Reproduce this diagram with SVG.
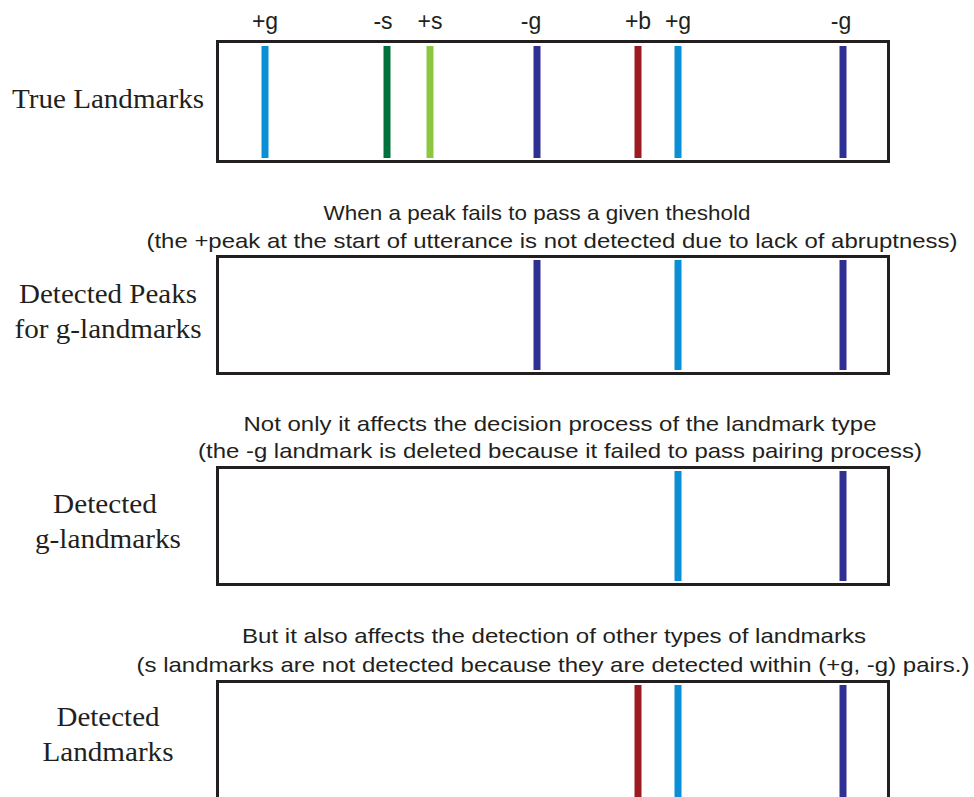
<svg xmlns="http://www.w3.org/2000/svg" width="974" height="797" viewBox="0 0 974 797">
<style>
.box{fill:#fff;stroke:#231f20;stroke-width:3}
.bar{stroke-width:7;fill:none}
.lb{stroke:#0a8fd6}
.db{stroke:#2e3192}
.dg{stroke:#00703c}
.lg{stroke:#8dc63f}
.rd{stroke:#9b1b20}
.cap{font-family:"Liberation Sans",Arial,sans-serif;font-size:21px;fill:#231f20;text-anchor:middle}
.tag{font-family:"Liberation Sans",Arial,sans-serif;font-size:23px;fill:#231f20;text-anchor:middle}
.side{font-family:"Liberation Serif","Times New Roman",serif;font-size:28px;fill:#231f20;text-anchor:middle}
</style>
<rect width="974" height="797" fill="#fff"/>
<g id="panel1">
<rect class="box" x="217.5" y="41.5" width="671" height="120"/>
<line class="bar lb" x1="265" y1="46" x2="265" y2="158"/>
<line class="bar dg" x1="387" y1="46" x2="387" y2="158"/>
<line class="bar lg" x1="430" y1="46" x2="430" y2="158"/>
<line class="bar db" x1="537" y1="46" x2="537" y2="158"/>
<line class="bar rd" x1="638" y1="46" x2="638" y2="158"/>
<line class="bar lb" x1="678" y1="46" x2="678" y2="158"/>
<line class="bar db" x1="843" y1="46" x2="843" y2="158"/>
<text class="tag" x="265" y="29">+g</text>
<text class="tag" x="383" y="29">-s</text>
<text class="tag" x="430" y="29">+s</text>
<text class="tag" x="531" y="29">-g</text>
<text class="tag" x="638" y="29">+b</text>
<text class="tag" x="678" y="29">+g</text>
<text class="tag" x="841" y="29">-g</text>
<text class="side" x="108" y="108" textLength="192" lengthAdjust="spacingAndGlyphs">True Landmarks</text>
</g>
<g id="panel2">
<text class="cap" x="537" y="220" textLength="427" lengthAdjust="spacingAndGlyphs">When a peak fails to pass a given theshold</text>
<text class="cap" x="552" y="248" textLength="811" lengthAdjust="spacingAndGlyphs">(the +peak at the start of utterance is not detected due to lack of abruptness)</text>
<rect class="box" x="217.5" y="256.5" width="671" height="117"/>
<line class="bar db" x1="537" y1="260" x2="537" y2="370"/>
<line class="bar lb" x1="678" y1="260" x2="678" y2="370"/>
<line class="bar db" x1="843" y1="260" x2="843" y2="370"/>
<text class="side" x="108" y="303" textLength="178" lengthAdjust="spacingAndGlyphs">Detected Peaks</text>
<text class="side" x="108" y="338" textLength="187" lengthAdjust="spacingAndGlyphs">for g-landmarks</text>
</g>
<g id="panel3">
<text class="cap" x="560" y="431" textLength="633" lengthAdjust="spacingAndGlyphs">Not only it affects the decision process of the landmark type</text>
<text class="cap" x="560" y="458" textLength="724" lengthAdjust="spacingAndGlyphs">(the -g landmark is deleted because it failed to pass pairing process)</text>
<rect class="box" x="217.5" y="467.5" width="671" height="117"/>
<line class="bar lb" x1="678" y1="471" x2="678" y2="581"/>
<line class="bar db" x1="843" y1="471" x2="843" y2="581"/>
<text class="side" x="105" y="513" textLength="104" lengthAdjust="spacingAndGlyphs">Detected</text>
<text class="side" x="108" y="548" textLength="146" lengthAdjust="spacingAndGlyphs">g-landmarks</text>
</g>
<g id="panel4">
<text class="cap" x="554" y="643" textLength="624" lengthAdjust="spacingAndGlyphs">But it also affects the detection of other types of landmarks</text>
<text class="cap" x="553" y="672" textLength="833" lengthAdjust="spacingAndGlyphs">(s landmarks are not detected because they are detected within (+g, -g) pairs.)</text>
<rect class="box" x="217.5" y="681.5" width="671" height="140"/>
<line class="bar rd" x1="638" y1="685" x2="638" y2="797"/>
<line class="bar lb" x1="678" y1="685" x2="678" y2="797"/>
<line class="bar db" x1="843" y1="685" x2="843" y2="797"/>
<text class="side" x="108" y="726" textLength="103" lengthAdjust="spacingAndGlyphs">Detected</text>
<text class="side" x="108" y="761" textLength="131" lengthAdjust="spacingAndGlyphs">Landmarks</text>
</g>
<g id="connectors"></g>
</svg>
